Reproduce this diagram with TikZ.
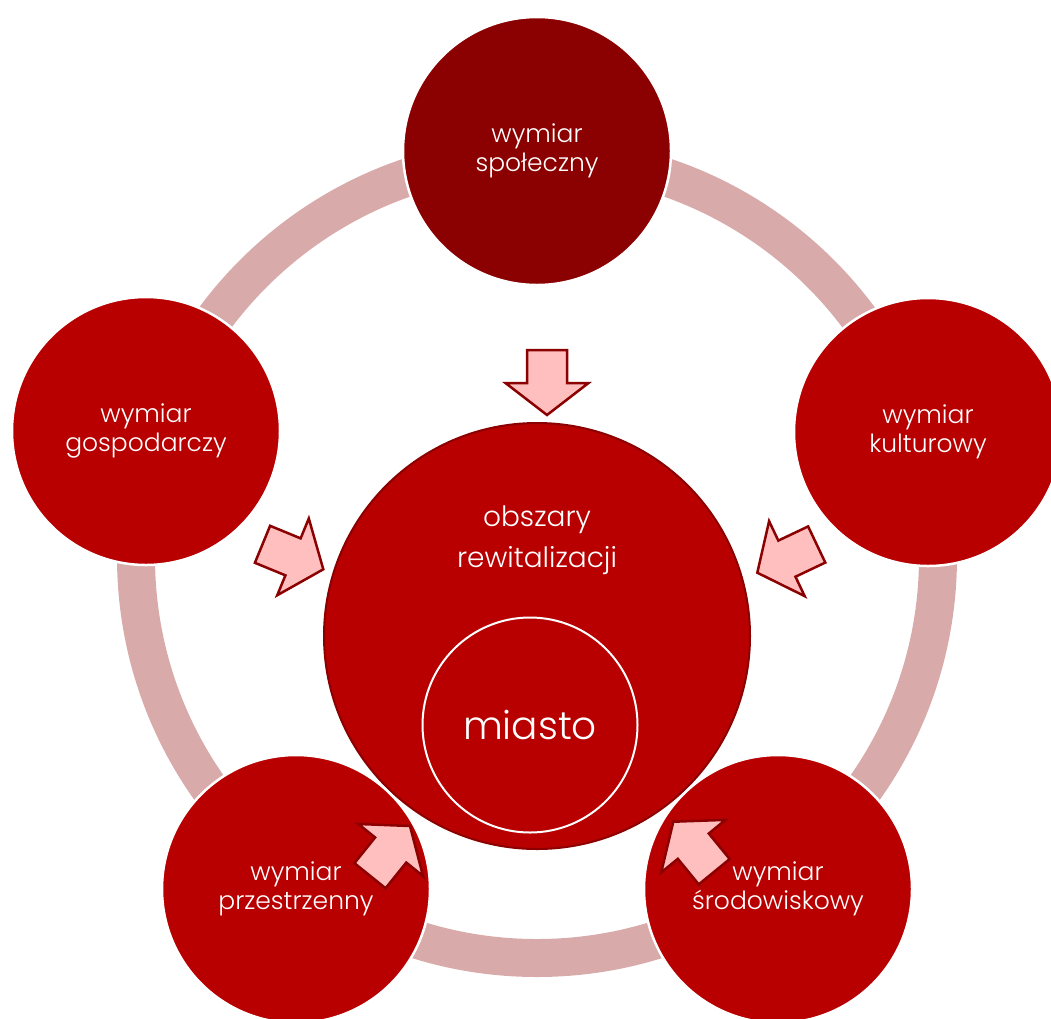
\documentclass[tikz,border=0pt]{standalone}
\usepackage{fontspec}
\setmainfont{Poppins Light}
\usetikzlibrary{calc}
\definecolor{darkred}{RGB}{139,0,0}
\definecolor{mainred}{RGB}{184,0,0}
\definecolor{ringpink}{RGB}{217,170,170}
\definecolor{arrowpink}{RGB}{255,191,191}
\begin{document}
\begin{tikzpicture}[x=1pt,y=-1pt,
  dimension/.style={circle, fill=mainred, draw=white, line width=2.5pt,
    minimum size=268pt, inner sep=0pt, text=white, align=center,
    font=\fontsize{25}{29}\selectfont},
  core/.style={circle, fill=mainred, draw=darkred, line width=2pt,
    minimum size=426pt, inner sep=0pt},
  city/.style={circle, draw=white, line width=2pt, minimum size=215pt,
    inner sep=0pt, text=white, font=\fontsize{39}{46}\selectfont},
  corelabel/.style={text=white, align=center, font=\fontsize{28}{41}\selectfont},
  ring/.style={draw=ringpink, line width=38pt},
  blockarrow/.style={fill=arrowpink, draw=darkred, line width=2.5pt, line join=miter}
]
\useasboundingbox (0,0) rectangle (1051,1018);
\clip (0,0) rectangle (1051,1018);
% ring
\coordinate (ringc) at (537,557);
\draw[ring] (ringc) circle[radius=401];
% central circle
\node[core] (center) at (537,636) {};
\node[corelabel] (centerlabel) at (537,540) {obszary\\rewitalizacji};
\node[city] (miasto) at (530,725) {miasto};
% outer circles
\node[dimension, fill=darkred] (spol) at (537,151) {wymiar\\społeczny};
\node[dimension] (gosp) at (146,431) {wymiar\\gospodarczy};
\node[dimension] (kult) at (928,432) {wymiar\\kulturowy};
\node[dimension] (przes) at (296,889) {wymiar\\przestrzenny};
\node[dimension] (srod) at (778,889) {wymiar\\środowiskowy};
% arrows
\foreach \i/\tx/\ty/\px/\py in {1/547/350/547/415, 2/262.5/544.3/323.3/569.3,
  3/816.7/544.5/757.3/572.7, 4/370/875.7/410/826, 5/714.2/871.7/673.3/821.7}{
  \coordinate (t\i) at (\tx,\ty);
  \coordinate (p\i) at (\px,\py);
  \coordinate (h\i) at ($(t\i)!33pt!(p\i)$);
  \draw[blockarrow] ($(t\i)!20pt!90:(p\i)$) -- ($(h\i)!20pt!90:(p\i)$)
    -- ($(h\i)!41.5pt!90:(p\i)$) -- (p\i) -- ($(h\i)!41.5pt!-90:(p\i)$)
    -- ($(h\i)!20pt!-90:(p\i)$) -- ($(t\i)!20pt!-90:(p\i)$) -- cycle;
}
\end{tikzpicture}
\end{document}
